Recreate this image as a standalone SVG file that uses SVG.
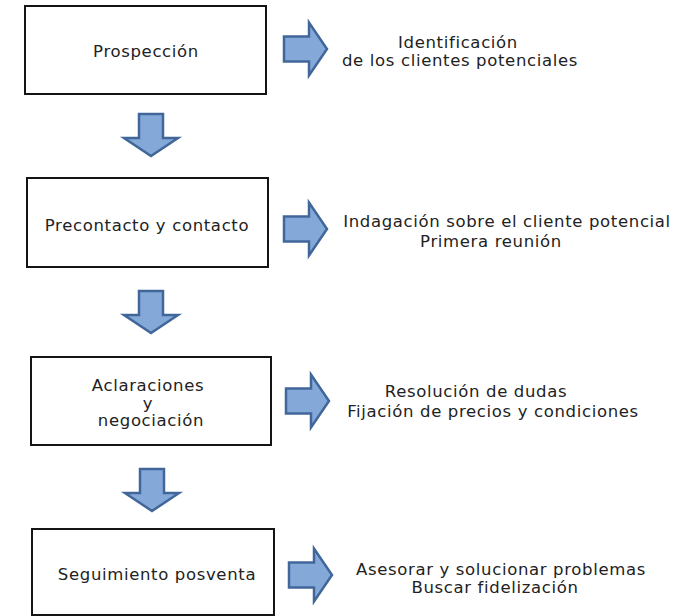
<svg xmlns="http://www.w3.org/2000/svg" width="695" height="616" viewBox="0 0 695 616">
<defs>
<style>
.box{fill:#fff;stroke:#141414;stroke-width:2}
.arr{fill:#84a9d8;stroke:#41679a;stroke-width:2.5;stroke-linejoin:miter}
text{font-family:"DejaVu Sans","Verdana",sans-serif;font-size:16.5px;letter-spacing:0.65px;fill:#222;text-anchor:middle}
</style>
<path id="ra" class="arr" d="M0,-12.5 H25 V-26.5 L43,0 L25,26.5 V12.5 H0 Z"/>
<path id="da" class="arr" d="M-12,0 V24 H-27 L0,42 L27,24 H12 V0 Z"/>
</defs>
<g id="n1"><rect class="box" x="25" y="6" width="241" height="88"/><text x="146" y="57">Prospección</text></g>
<g id="n2"><rect class="box" x="27" y="178" width="241" height="89"/><text x="147" y="231">Precontacto y contacto</text></g>
<g id="n3"><rect class="box" x="31" y="357" width="240" height="88"/><text y="391"><tspan x="148">Aclaraciones</tspan><tspan x="148" dy="17.5">y</tspan><tspan x="151" dy="17.5">negociación</tspan></text></g>
<g id="n4"><rect class="box" x="32" y="529" width="242" height="86"/><text x="157" y="580">Seguimiento posventa</text></g>
<g id="d1"><text y="47.5"><tspan x="458">Identificación</tspan><tspan x="460" dy="18">de los clientes potenciales</tspan></text></g>
<g id="d2"><text y="227"><tspan x="507">Indagación sobre el cliente potencial</tspan><tspan x="491" dy="20">Primera reunión</tspan></text></g>
<g id="d3"><text y="397"><tspan x="476">Resolución de dudas</tspan><tspan x="493" dy="20">Fijación de precios y condiciones</tspan></text></g>
<g id="d4"><text y="574.5"><tspan x="501">Asesorar y solucionar problemas</tspan><tspan x="495" dy="18">Buscar fidelización</tspan></text></g>
<g id="connectors">
<use href="#ra" x="284" y="49"/>
<use href="#ra" x="284" y="229"/>
<use href="#ra" x="286" y="401"/>
<use href="#ra" x="289" y="575"/>
<use href="#da" x="151" y="114"/>
<use href="#da" x="151" y="291"/>
<use href="#da" x="152" y="469"/>
</g>
</svg>
